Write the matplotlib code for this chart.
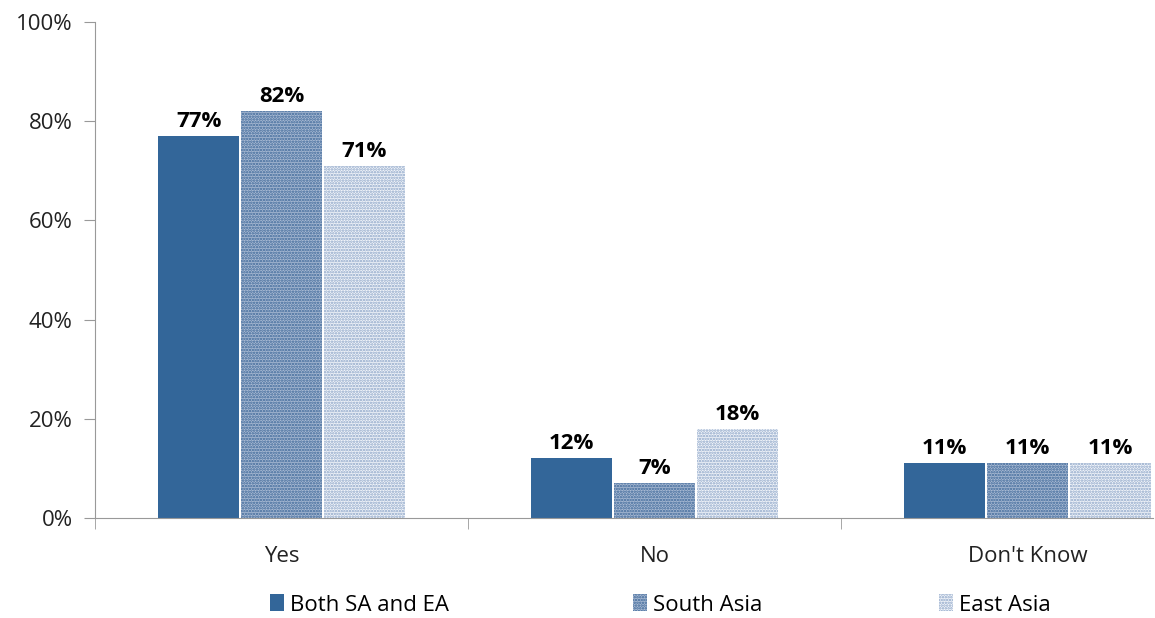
import matplotlib.pyplot as plt
from matplotlib.ticker import FixedLocator, PercentFormatter
import numpy as np

plt.rcParams['font.family'] = ['Open Sans', 'DejaVu Sans']
plt.rcParams['hatch.linewidth'] = 1.2

categories = ["Yes", "No", "Don't Know"]
series = ["Both SA and EA", "South Asia", "East Asia"]
both_sa_ea = [77, 12, 11]
south_asia = [82, 7, 11]
east_asia = [71, 18, 11]
labels_both = ["77%", "12%", "11%"]
labels_sa = ["82%", "7%", "11%"]
labels_ea = ["71%", "18%", "11%"]

fig = plt.figure(figsize=(11.55, 6.18), dpi=100)
ax = fig.add_axes([95 / 1155, 1 - 518 / 618, (1153 - 95) / 1155, (518 - 22) / 618])

x = np.arange(len(categories))
w = 0.222
styles = [
    dict(facecolor="#336699", hatch=None, edgecolor="white"),
    dict(facecolor="#a9bad3", hatch="......", edgecolor="#3a6597"),
    dict(facecolor="#f2f5fa", hatch="......", edgecolor="#8aa3c6"),
]
data = [both_sa_ea, south_asia, east_asia]
labs = [labels_both, labels_sa, labels_ea]
handles = []
for i, (vals, st, lb, name) in enumerate(zip(data, styles, labs, series)):
    bars = ax.bar(x + (i - 1) * w, vals, w * 0.98, facecolor=st["facecolor"],
                  hatch=st["hatch"], edgecolor=st["edgecolor"], linewidth=0,
                  label=name)
    handles.append(bars)
    ax.bar_label(bars, labels=lb, padding=3, fontsize=16, fontweight="bold")

ax.set_ylim(0, 100)
ax.set_xlim(-0.5, 2.336)
ax.set_yticks([0, 20, 40, 60, 80, 100])
ax.yaxis.set_major_formatter(PercentFormatter(decimals=0))
ax.set_xticks(x)
ax.set_xticklabels(categories)
ax.xaxis.set_minor_locator(FixedLocator([-0.5, 0.5, 1.5]))
ax.tick_params(axis="x", which="major", length=0, pad=20, labelsize=16, colors="#222222")
ax.tick_params(axis="x", which="minor", length=8, color="#999999")
ax.tick_params(axis="y", length=8, color="#999999", labelsize=16, labelcolor="#222222", pad=8)
for s in ["top", "right"]:
    ax.spines[s].set_visible(False)
for s in ["left", "bottom"]:
    ax.spines[s].set_color("#999999")

# legend entries placed one by one, like the original
for h, name, px in zip(handles, series, [270, 633, 939]):
    fig.legend(handles=[h], labels=[name], loc="center left",
               bbox_to_anchor=(px / 1155, 1 - 605 / 618), frameon=False,
               fontsize=16, handlelength=0.65, handleheight=0.8, handletextpad=0.25,
               borderpad=0, borderaxespad=0)

fig.savefig("out.png", dpi=100)
